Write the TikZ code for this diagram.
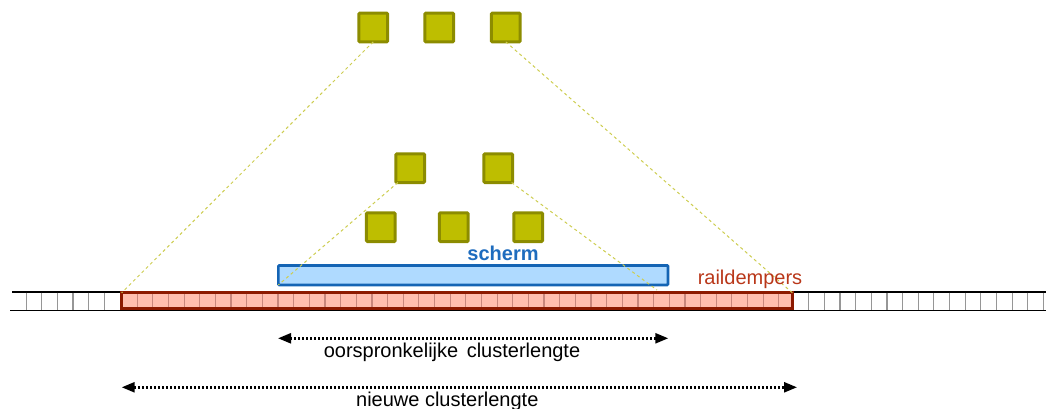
\documentclass[tikz,border=0pt]{standalone}
\usepackage{fontspec}
\setmainfont{Liberation Sans}
\usetikzlibrary{arrows.meta}
\definecolor{sqfill}{RGB}{190,190,0}
\definecolor{sqborder}{RGB}{140,140,0}
\definecolor{bluefill}{RGB}{175,218,255}
\definecolor{blueborder}{RGB}{20,100,180}
\definecolor{bluetext}{RGB}{30,108,190}
\definecolor{redfill}{RGB}{255,190,175}
\definecolor{redborder}{RGB}{140,25,0}
\definecolor{redtie}{RGB}{200,135,125}
\definecolor{redtext}{RGB}{185,55,25}
\definecolor{guide}{RGB}{205,205,80}
\definecolor{tiegray}{RGB}{150,150,150}
\tikzset{
  sq/.style={draw=sqborder, fill=sqfill, line width=3pt, minimum size=28.7pt, inner sep=0pt, rounded corners=1pt, outer sep=0pt},
  guideline/.style={draw=guide, line width=1pt, dash pattern=on 3pt off 3pt},
  railline/.style={draw=black, line width=1.8pt},
  tie/.style={draw=tiegray, line width=1.2pt},
  redtiestyle/.style={draw=redtie, line width=1.2pt},
  dimarrow/.style={draw=black, line width=2.4pt, dash pattern=on 2pt off 2pt, {Triangle[length=13pt,width=10pt]}-{Triangle[length=13pt,width=10pt]}},
  lbl/.style={font=\fontsize{20}{24}\selectfont, inner sep=0pt, anchor=base},
}
\begin{document}
\begin{tikzpicture}[x=1pt,y=-1pt]
\useasboundingbox (0,0) rectangle (1046,409);
% squares
\node[sq] (t1) at (373.2,27.5) {};
\node[sq] (t2) at (439.3,27.5) {};
\node[sq] (t3) at (505.8,27.5) {};
\node[sq] (m1) at (410.2,168.2) {};
\node[sq] (m2) at (498.3,168.2) {};
\node[sq] (b1) at (380.8,227.2) {};
\node[sq] (b2) at (453.8,227.2) {};
\node[sq] (b3) at (528.2,227.2) {};
% rail
\draw[railline] (12,292) -- (1046,292);
\draw[railline] (10,310.5) -- (1046,310.5);
\foreach \k in {1,...,6} { \draw[tie] ({120-15.65*\k},292.5) -- ({120-15.65*\k},310); }
\foreach \k in {1,...,16} { \draw[tie] ({793+15.65*\k},292.5) -- ({793+15.65*\k},310); }
% raildempers
\node[fill=redfill, minimum width=670.6pt, minimum height=15.7pt, inner sep=0pt, outer sep=0pt] (red) at (457,300.6) {};
\foreach \k in {1,...,42} { \draw[redtiestyle] ({121.5+15.65*\k},293.5) -- ({121.5+15.65*\k},308); }
\draw[draw=redborder, line width=2.7pt] (red.south west) rectangle (red.north east);
% scherm
\node[draw=blueborder, fill=bluefill, line width=2.7pt, minimum width=389.7pt, minimum height=19.5pt, inner sep=0pt, outer sep=0pt, rounded corners=1pt] (screen) at (473.2,275.2) {};
% guide lines
\coordinate (g4) at (657,290);
\draw[guideline] (t1.south) -- (red.north west);
\draw[guideline] (t3.south) -- (red.north east);
\draw[guideline] ([xshift=2pt]m1.south west) -- (screen.south west);
\draw[guideline] ([xshift=-1pt]m2.south east) -- (g4);
% labels
\node[lbl, font=\fontsize{20}{24}\selectfont\bfseries, text=bluetext] (lscherm) at (503,260.7) {scherm};
\node[lbl, text=redtext] (lrail) at (750,284) {raildempers};
% dimension arrows
\coordinate (a1l) at (278,338.3);
\coordinate (a1r) at (668.3,338.3);
\coordinate (a2l) at (121.7,387.3);
\coordinate (a2r) at (797,387.3);
\draw[dimarrow] (a1l) -- (a1r);
\draw[dimarrow] (a2l) -- (a2r);
\node[lbl] (lorig) at (452,357.5) {oorspronkelijke\hspace{3pt} clusterlengte};
\node[lbl] (lnew) at (447.3,406.3) {nieuwe clusterlengte};
\end{tikzpicture}
\end{document}
